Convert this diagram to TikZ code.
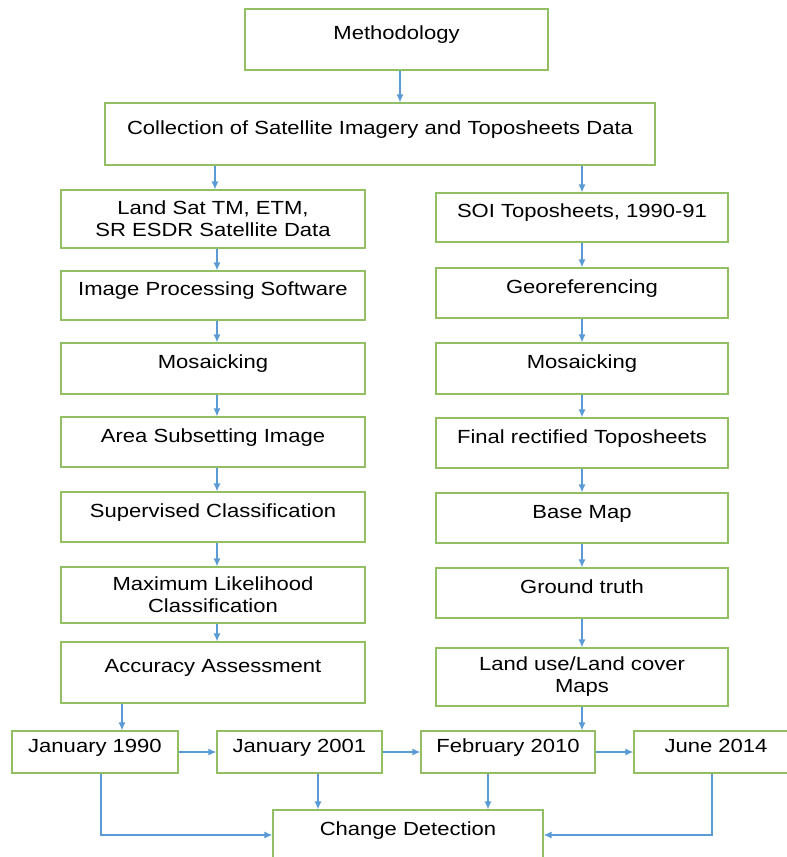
\documentclass[tikz,border=0pt]{standalone}
\usepackage{fontspec}
\setmainfont{Liberation Sans}[FakeStretch=1.16]
\usepackage{tikz}
\usetikzlibrary{arrows.meta,positioning,calc}

\definecolor{boxgreen}{RGB}{146,190,100}
\definecolor{flowblue}{RGB}{91,155,213}

\begin{document}
\begin{tikzpicture}[x=1pt,y=-1pt,
    font=\fontsize{19}{22}\selectfont,
    block/.style={draw=boxgreen,line width=1.2pt,inner sep=0pt,minimum height=50pt},
    single/.style={block,text height=13.5pt,text depth=13.5pt},
    lcol/.style={minimum width=304pt},
    rcol/.style={minimum width=292pt},
    flow/.style={draw=flowblue,line width=1.3pt,-{Latex[length=8pt,width=7pt]}}]

        \useasboundingbox (0,0) rectangle (787,857);
        \clip (0,0) rectangle (787,857);

        % top boxes
        \node[single,minimum width=303pt,minimum height=61pt] (meth) at (396.5,39.5) {Methodology};
        \node[single,minimum width=550pt,minimum height=62pt] (coll) at (380,134) {Collection of Satellite Imagery and Toposheets Data};

        % left side boxes (satellite data)
        \node[block,lcol,align=center,minimum height=58pt] (sat) at (213,219) {Land Sat TM, ETM,\\SR ESDR Satellite Data};
        \node[single,lcol,minimum height=49pt] (soft) at (213,295.5) {Image Processing Software};
        \node[single,lcol,minimum height=51pt] (mosL) at (213,368.5) {Mosaicking};
        \node[single,lcol] (subset) at (213,442) {Area Subsetting Image};
        \node[single,lcol] (superv) at (213,517) {Supervised Classification};
        \node[block,lcol,align=center,minimum height=56pt] (mlc) at (213,595) {Maximum Likelihood\\Classification};
        \node[single,lcol,minimum height=61pt] (acc) at (213,672.5) {Accuracy Assessment};

        % right side boxes (toposheets)
        \node[single,rcol,minimum height=49pt] (soi) at (582,217.5) {SOI Toposheets, 1990-91};
        \node[single,rcol] (geo) at (582,293) {Georeferencing};
        \node[single,rcol,minimum height=51pt] (mosR) at (582,368.5) {Mosaicking};
        \node[single,rcol] (rect) at (582,443) {Final rectified Toposheets};
        \node[single,rcol] (base) at (582,518) {Base Map};
        \node[single,rcol] (truth) at (582,593) {Ground truth};
        \node[block,rcol,align=center,minimum height=58pt] (lulc) at (582,677) {Land use/Land cover\\Maps};

        % dates row
        \node[single,minimum width=166pt,minimum height=42pt] (d1990) at (95,752) {January 1990};
        \node[single,minimum width=165pt,minimum height=42pt] (d2001) at (299.5,752) {January 2001};
        \node[single,minimum width=174pt,minimum height=42pt] (d2010) at (508,752) {February 2010};
        \node[single,minimum width=164pt,minimum height=42pt] (d2014) at (716,752) {June 2014};
        \node[single,minimum width=270pt,minimum height=50pt] (change) at (408,835) {Change Detection};

        % arcs from the top
        \draw[flow] ([xshift=3.5pt]meth.south) -- ([xshift=3.5pt]meth.south |- coll.north);
        \draw[flow] ([xshift=2pt]coll.south -| sat.north) -- ([xshift=2pt]sat.north);
        \draw[flow] (coll.south -| soi.north) -- (soi.north);

        % left and right chains
        \foreach \a/\b in {sat/soft,soft/mosL,mosL/subset,subset/superv,superv/mlc,mlc/acc}
            \draw[flow] ([xshift=4pt]\a.south) -- ([xshift=4pt]\b.north);
        \foreach \a/\b in {soi/geo,geo/mosR,mosR/rect,rect/base,base/truth,truth/lulc}
            \draw[flow] (\a.south) -- (\b.north);

        % into the dates row
        \draw[flow] ([xshift=27pt]d1990.north |- acc.south) -- ([xshift=27pt]d1990.north);
        \draw[flow] (lulc.south) -- (lulc.south |- d2010.north);
        \draw[flow] (d1990.east) -- (d2001.west);
        \draw[flow] (d2001.east) -- (d2010.west);
        \draw[flow] (d2010.east) -- (d2014.west);

        % to change detection
        \draw[flow] ([xshift=6pt]d1990.south) |- (change.west);
        \draw[flow] ([xshift=18.5pt]d2001.south) -- ([xshift=18.5pt]d2001.south |- change.north);
        \draw[flow] ([xshift=-20pt]d2010.south) -- ([xshift=-20pt]d2010.south |- change.north);
        \draw[flow] ([xshift=-4pt]d2014.south) |- (change.east);

\end{tikzpicture}
\end{document}
